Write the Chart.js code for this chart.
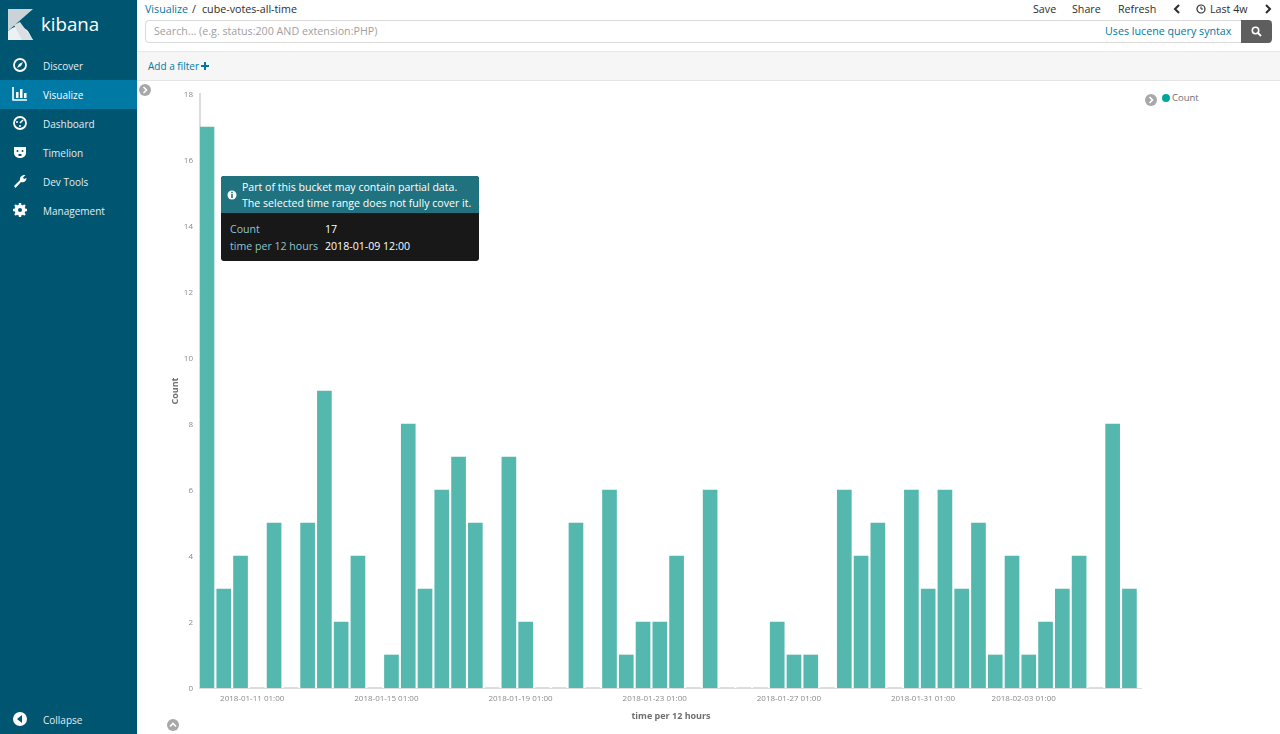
<!DOCTYPE html>
<html>
<head>
<meta charset="utf-8">
<title>cube-votes-all-time</title>
<script src="https://cdn.jsdelivr.net/npm/chart.js@4"></script>
<style>
html, body { margin: 0; padding: 0; width: 1280px; height: 734px; overflow: hidden; background: #fff; font-family: "Open Sans", sans-serif; }
.abs { position: absolute; white-space: nowrap; }
#sidebar { left: 0; top: 0; width: 137px; height: 734px; background: #005571; }
.nav { left: 0; width: 137px; height: 29px; line-height: 29px; color: #e4eef2; font-size: 10px; }
.nav span { position: absolute; left: 43px; top: 1px; }
.nav svg { position: absolute; left: 12px; top: 6px; }
.nav.active { background: #0079a5; color: #fff; }
.top { font-size: 10.7px; color: #2d2d2d; top: 2px; line-height: 15px; }
.link { color: #0079a5; }
#search { left: 145px; top: 20px; width: 1095px; height: 21px; border: 1px solid #d9d9d9; border-radius: 4px 0 0 4px; background: #fff; }
#filterbar { left: 137px; top: 51px; width: 1143px; height: 28px; background: #f6f6f6; border-top: 1px solid #e8e8e8; border-bottom: 1px solid #e4e4e4; }
#chartBox { left: 137px; top: 80px; width: 1005px; height: 654px; }
#tip { left: 221px; top: 176px; width: 258px; height: 85px; border-radius: 3px; overflow: hidden; background: #181818; font-size: 10.6px; line-height: 16px; color: #fff; }
#tipHead { left: 0; top: 0; width: 258px; height: 37px; background: #20727f; }
.round { width: 12px; height: 12px; border-radius: 50%; background: #a8a8a8; }
</style>
</head>
<body>

<div id="sidebar" class="abs"></div>
<svg class="abs" style="left:8px;top:9px" width="25" height="32" viewBox="0 0 25 32">
  <path d="M0 0H25L0 22Z" fill="#c9d3d8"/>
  <path d="M0 22C8 15 15 17 20 22L25 31H0Z" fill="#eef1f2"/>
  <path d="M6 16L12 13L25 31H14Z" fill="#d9dfe2"/>
</svg>
<div class="abs" style="left:41px;top:9px;font-size:18.7px;line-height:30px;color:#fff">kibana</div>

<div class="abs nav" style="top:51px"><svg width="16" height="16" viewBox="0 0 16 16"><circle cx="8" cy="8" r="6" fill="none" stroke="#fff" stroke-width="1.8"/><path d="M11 5L9 9L5 11L7 7Z" fill="#fff"/></svg><span>Discover</span></div>
<div class="abs nav active" style="top:80px"><svg width="16" height="16" viewBox="0 0 16 16"><path d="M1 1V14H15" fill="none" stroke="#fff" stroke-width="1.6"/><path d="M4 6H6.500V12H4ZM8 3H10.500V12H8ZM12 7H14.500V12H12Z" fill="#fff"/></svg><span>Visualize</span></div>
<div class="abs nav" style="top:109px"><svg width="16" height="16" viewBox="0 0 16 16"><circle cx="8" cy="8" r="6" fill="none" stroke="#fff" stroke-width="1.8"/><path d="M8 8L11 5" stroke="#fff" stroke-width="1.6"/><circle cx="5" cy="7" r="1" fill="#fff"/><circle cx="8" cy="11" r="1" fill="#fff"/></svg><span>Dashboard</span></div>
<div class="abs nav" style="top:138px"><svg width="16" height="16" viewBox="0 0 16 16"><path d="M2 3H14V9C14 12 11 14 8 14C5 14 2 12 2 9Z" fill="#fff"/><circle cx="5.500" cy="7" r="1" fill="#005571"/><circle cx="10.500" cy="7" r="1" fill="#005571"/><path d="M6.500 10H9.500V12H6.500Z" fill="#005571"/></svg><span>Timelion</span></div>
<div class="abs nav" style="top:167px"><svg width="16" height="16" viewBox="0 0 16 16"><path d="M2 13L8 7C7.500 4 10 1.500 13.500 2L11 4.500L12 6L14.500 5C14.500 8 12 10 9 9L3.500 15Z" fill="#fff"/></svg><span>Dev Tools</span></div>
<div class="abs nav" style="top:196px"><svg width="16" height="16" viewBox="0 0 16 16"><circle cx="8" cy="8" r="4" fill="none" stroke="#fff" stroke-width="3"/><path d="M8 1V15M1 8H15M3 3L13 13M13 3L3 13" stroke="#fff" stroke-width="2.400"/><circle cx="8" cy="8" r="2" fill="#005571"/></svg><span>Management</span></div>
<div class="abs nav" style="top:705px"><svg width="16" height="16" viewBox="0 0 16 16"><circle cx="8" cy="8" r="7" fill="#fff"/><path d="M10 4V12L5 8Z" fill="#005571"/></svg><span>Collapse</span></div>

<div class="abs top link" style="left:145px">Visualize</div>
<div class="abs top" style="left:192px">/</div>
<div class="abs top" style="left:202px">cube-votes-all-time</div>
<div class="abs top" style="left:1033px">Save</div>
<div class="abs top" style="left:1072px">Share</div>
<div class="abs top" style="left:1118px">Refresh</div>
<svg class="abs" style="left:1173px;top:4px" width="8" height="10" viewBox="0 0 8 10"><path d="M6 1L2 5L6 9" fill="none" stroke="#2d2d2d" stroke-width="2"/></svg>
<svg class="abs" style="left:1196px;top:4px" width="10" height="10" viewBox="0 0 10 10"><circle cx="5" cy="5" r="4" fill="none" stroke="#2d2d2d" stroke-width="1.200"/><path d="M5 2.500V5H7" fill="none" stroke="#2d2d2d"/></svg>
<div class="abs top" style="left:1210px">Last 4w</div>
<svg class="abs" style="left:1264px;top:4px" width="8" height="10" viewBox="0 0 8 10"><path d="M2 1L6 5L2 9" fill="none" stroke="#2d2d2d" stroke-width="2"/></svg>

<div id="search" class="abs"></div>
<div class="abs" style="left:154px;top:24px;font-size:10.700px;line-height:15px;color:#a0a0a0">Search... (e.g. status:200 AND extension:PHP)</div>
<div class="abs link" style="left:1105px;top:24px;font-size:10.700px;line-height:15px">Uses lucene query syntax</div>
<div class="abs" style="left:1241px;top:20px;width:31px;height:23px;background:#5e5e5e;border-radius:0 4px 4px 0"></div>
<svg class="abs" style="left:1251px;top:26px" width="11" height="11" viewBox="0 0 11 11"><circle cx="4.500" cy="4.500" r="3.200" fill="none" stroke="#fff" stroke-width="1.600"/><path d="M7 7L10 10" stroke="#fff" stroke-width="1.800"/></svg>

<div id="filterbar" class="abs"></div>
<div class="abs link" style="left:148px;top:59px;font-size:10px;line-height:15px">Add a filter</div>
<svg class="abs" style="left:201px;top:62px" width="8" height="8" viewBox="0 0 8 8"><path d="M3 0H5V3H8V5H5V8H3V5H0V3H3Z" fill="#0079a5"/></svg>

<div id="chartBox" class="abs"><canvas id="chartCount"></canvas></div>

<div class="abs round" style="left:139px;top:84px"></div>
<svg class="abs" style="left:142px;top:86px" width="6" height="8" viewBox="0 0 6 8"><path d="M1.500 1L4.500 4L1.500 7" fill="none" stroke="#fff" stroke-width="1.600"/></svg>
<div class="abs round" style="left:167px;top:719px"></div>
<svg class="abs" style="left:169px;top:722px" width="8" height="6" viewBox="0 0 8 6"><path d="M1 4.500L4 1.500L7 4.500" fill="none" stroke="#fff" stroke-width="1.600"/></svg>
<div class="abs round" style="left:1145px;top:94px"></div>
<svg class="abs" style="left:1148px;top:96px" width="6" height="8" viewBox="0 0 6 8"><path d="M1.500 1L4.500 4L1.500 7" fill="none" stroke="#fff" stroke-width="1.600"/></svg>
<div class="abs" style="left:1162px;top:94px;width:8px;height:8px;border-radius:50%;background:#00a69b"></div>
<div class="abs" id="legendText" style="left:1172px;top:91px;font-size:9.500px;line-height:14px;color:#6e6e6e"></div>

<div id="tip" class="abs">
  <div id="tipHead" class="abs"></div>
  <svg class="abs" style="left:6px;top:14px" width="10" height="10" viewBox="0 0 10 10"><circle cx="5" cy="5" r="4.500" fill="#fff"/><path d="M4.200 4H5.800V8H4.200ZM4.200 1.800H5.800V3.200H4.200Z" fill="#20727f"/></svg>
  <div class="abs" style="left:21px;top:3px">Part of this bucket may contain partial data.</div>
  <div class="abs" style="left:21px;top:19px">The selected time range does not fully cover it.</div>
  <div class="abs" id="tipKey1" style="left:9px;top:45px;color:#8cc5d0"></div>
  <div class="abs" id="tipVal1" style="left:104px;top:45px"></div>
  <div class="abs" id="tipKey2" style="left:9px;top:62px;color:#8cc5d0"></div>
  <div class="abs" id="tipVal2" style="left:104px;top:62px"></div>
</div>

<script>
// counts per 12 hour bucket, first bucket is 2018-01-09 12:00
const counts = [17, 3, 4, 0, 5, 0, 5, 9, 2, 4, 0, 1, 8, 3, 6, 7, 5, 0, 7, 2, 0, 0, 5, 0, 6, 1, 2, 2, 4, 0, 6, 0, 0, 0, 2, 1, 1, 0, 6, 4, 5, 0, 6, 3, 6, 3, 5, 1, 4, 1, 2, 3, 4, 0, 8, 3];
const firstBucket = '2018-01-09 12:00';

// x tick positions, in hours since the first bucket
const tickHours = [37, 133, 229, 325, 421, 517, 589];
const tickLabels = ['2018-01-11 01:00', '2018-01-15 01:00', '2018-01-19 01:00', '2018-01-23 01:00', '2018-01-27 01:00', '2018-01-31 01:00', '2018-02-03 01:00'];
const yTicks = [0, 2, 4, 6, 8, 10, 12, 14, 16, 18];

const seriesName = 'Count';
const xTitle = 'time per 12 hours';

document.getElementById('legendText').textContent = seriesName;
document.getElementById('tipKey1').textContent = seriesName;
document.getElementById('tipVal1').textContent = counts[0];
document.getElementById('tipKey2').textContent = xTitle;
document.getElementById('tipVal2').textContent = firstBucket;

const tickFont = { family: '"Open Sans", sans-serif', size: 8 };
const titleFont = { family: '"Open Sans", sans-serif', size: 9, weight: '700' };

new Chart(document.getElementById('chartCount'), {
    type: 'bar',
    data: {
        datasets: [{
            label: seriesName,
            // bars start on the bucket time, so shift by about half a bar
            data: counts.map((c, i) => ({ x: i * 12 + 5, y: c })),
            backgroundColor: '#54b8ae',
            barThickness: 14
        }]
    },
    options: {
        responsive: true,
        maintainAspectRatio: false,
        animation: false,
        layout: { padding: { top: 14 } },
        plugins: { legend: { display: false }, tooltip: { enabled: false } },
        scales: {
            x: {
                type: 'linear',
                offset: false,
                min: 0,
                max: 674,
                grid: { display: false, drawTicks: true, tickLength: 4, tickColor: '#dddddd' },
                border: { color: '#dddddd' },
                title: { display: true, text: xTitle, color: '#6e6e6e', font: titleFont, padding: { top: 5, bottom: 12 } },
                afterBuildTicks: scale => { scale.ticks = tickHours.map(v => ({ value: v })); },
                afterFit: scale => { scale.height = 46; },
                ticks: {
                    autoSkip: false,
                    maxRotation: 0,
                    color: '#8a8a8a',
                    font: tickFont,
                    padding: 2,
                    labelOffset: 0.5,
                    callback: value => tickLabels[tickHours.indexOf(value)]
                }
            },
            y: {
                min: 0,
                max: 18,
                grid: { display: false, drawTicks: true, tickLength: 4, tickColor: '#dddddd' },
                border: { color: '#dddddd', width: 2 },
                title: { display: true, text: seriesName, color: '#6e6e6e', font: titleFont, padding: { top: 33, bottom: 0 } },
                afterBuildTicks: scale => { scale.ticks = yTicks.map(v => ({ value: v })); },
                afterFit: scale => { scale.width = 63; },
                ticks: { color: '#8a8a8a', font: tickFont, padding: 3, labelOffset: 0.5 }
            }
        }
    }
});
</script>
</body>
</html>
